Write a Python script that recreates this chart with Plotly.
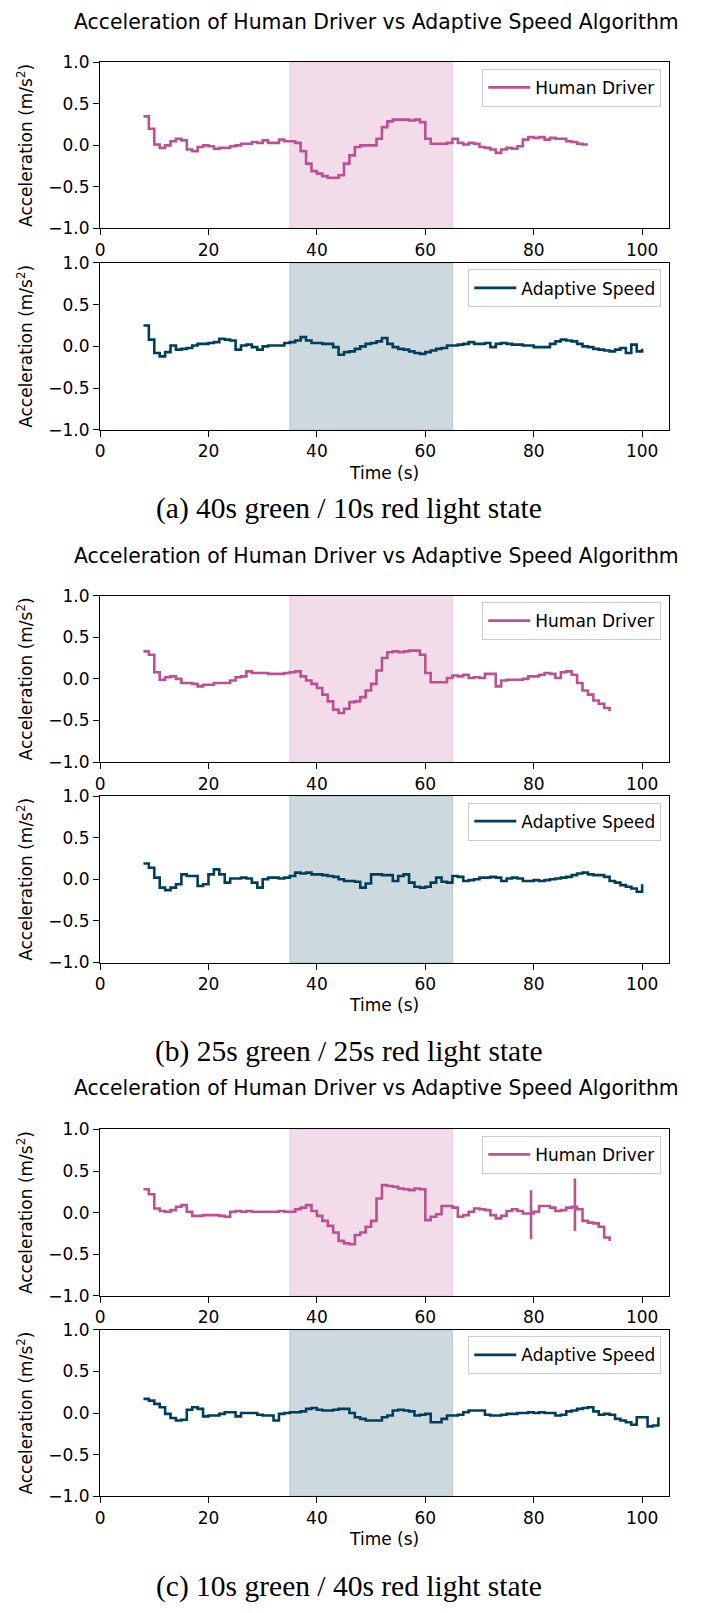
import plotly.graph_objects as go

# ---------------- DATA ----------------
time_start = 8
# (a) 40s green / 10s red
human_a = [0.35, 0.20, 0.01, -0.03, 0.00, 0.05, 0.08, 0.06, -0.05, -0.07, -0.02, 0.00, -0.01, -0.04, -0.03, -0.03,
           -0.01, 0.00, 0.02, 0.02, 0.04, 0.03, 0.06, 0.03, 0.03, 0.07, 0.05, 0.05, 0.03, -0.07, -0.22, -0.31,
           -0.34, -0.37, -0.39, -0.39, -0.36, -0.22, -0.12, -0.02, 0.00, 0.00, 0.00, 0.08, 0.22, 0.29, 0.31, 0.31,
           0.31, 0.30, 0.31, 0.28, 0.08, 0.02, 0.02, 0.02, 0.03, 0.08, 0.03, 0.01, 0.03, 0.02, -0.02, -0.03, -0.05,
           -0.09, -0.05, -0.03, -0.04, -0.01, 0.07, 0.10, 0.09, 0.10, 0.07, 0.09, 0.08, 0.08, 0.05, 0.04, 0.02,
           0.01, 0.01]
adaptive_a = [0.25, 0.08, -0.08, -0.12, -0.07, 0.01, -0.04, -0.03, -0.02, 0.01, 0.03, 0.03, 0.04, 0.05, 0.09, 0.08,
              0.07, -0.04, 0.01, 0.02, -0.01, -0.04, 0.00, 0.01, 0.01, 0.01, 0.04, 0.05, 0.07, 0.11, 0.07, 0.04,
              0.04, 0.03, 0.03, -0.01, -0.10, -0.07, -0.06, -0.03, 0.00, 0.03, 0.04, 0.06, 0.10, 0.03, -0.01, -0.03,
              -0.04, -0.06, -0.08, -0.09, -0.07, -0.05, -0.03, -0.02, 0.01, 0.01, 0.02, 0.03, 0.05, 0.03, 0.03, 0.04,
              -0.01, 0.03, 0.04, 0.03, 0.02, 0.02, 0.01, 0.01, -0.01, -0.01, -0.01, 0.03, 0.06, 0.08, 0.07, 0.06,
              0.03, 0.00, -0.01, -0.03, -0.04, -0.05, -0.06, -0.04, -0.02, -0.08, 0.02, -0.06, -0.03]
# (b) 25s green / 25s red
human_b = [0.33, 0.29, 0.08, -0.01, 0.02, 0.03, 0.00, -0.05, -0.05, -0.06, -0.09, -0.07, -0.07, -0.05, -0.05, -0.05,
           -0.02, 0.02, 0.03, 0.09, 0.07, 0.07, 0.07, 0.06, 0.06, 0.06, 0.07, 0.08, 0.09, 0.03, -0.02, -0.06,
           -0.11, -0.19, -0.27, -0.37, -0.41, -0.36, -0.28, -0.27, -0.22, -0.14, -0.06, 0.10, 0.25, 0.32, 0.33,
           0.32, 0.33, 0.34, 0.34, 0.29, 0.07, -0.04, -0.04, -0.04, 0.01, 0.04, 0.03, 0.05, 0.01, 0.02, 0.01,
           0.06, 0.06, -0.09, -0.02, -0.01, -0.01, -0.01, 0.00, 0.03, 0.03, 0.05, 0.07, 0.06, 0.01, 0.08, 0.09,
           0.05, -0.05, -0.14, -0.19, -0.26, -0.30, -0.35, -0.39]
adaptive_b = [0.19, 0.14, 0.02, -0.10, -0.13, -0.10, -0.06, 0.06, 0.04, 0.04, -0.08, -0.06, 0.06, 0.12, 0.06, -0.04,
              0.01, 0.01, 0.02, 0.01, -0.04, -0.10, 0.00, 0.02, 0.02, 0.01, 0.02, 0.04, 0.08, 0.07, 0.08, 0.06,
              0.06, 0.05, 0.04, 0.03, 0.00, -0.02, -0.02, -0.03, -0.10, -0.05, 0.06, 0.06, 0.05, 0.05, -0.02, 0.04,
              0.06, -0.04, -0.09, -0.10, -0.09, -0.04, 0.02, -0.03, -0.04, 0.04, 0.03, -0.02, -0.01, 0.00, 0.02,
              0.02, 0.03, 0.02, -0.02, 0.01, 0.02, 0.01, -0.02, -0.02, -0.01, -0.02, -0.01, 0.00, 0.01, 0.02, 0.03,
              0.05, 0.07, 0.08, 0.06, 0.05, 0.05, 0.03, -0.02, -0.04, -0.07, -0.09, -0.11, -0.15, -0.06]
# (c) 10s green / 40s red
human_c = [0.28, 0.22, 0.05, 0.02, 0.01, 0.03, 0.07, 0.09, 0.01, -0.04, -0.04, -0.03, -0.03, -0.03, -0.04, -0.05,
           0.01, 0.02, 0.01, 0.02, 0.01, 0.01, 0.01, 0.01, 0.01, 0.02, 0.01, 0.01, 0.04, 0.06, 0.09, 0.02, -0.04,
           -0.10, -0.16, -0.24, -0.34, -0.37, -0.38, -0.27, -0.24, -0.17, -0.10, 0.17, 0.33, 0.32, 0.31, 0.29,
           0.28, 0.27, 0.29, 0.28, -0.09, -0.05, -0.02, 0.08, 0.08, 0.06, -0.05, -0.03, 0.01, 0.05, 0.04, 0.03,
           -0.03, -0.07, -0.04, 0.02, 0.04, 0.02, -0.01, -0.01, 0.01, 0.08, 0.08, 0.06, 0.02, 0.03, 0.06, 0.07,
           0.04, -0.10, -0.12, -0.13, -0.17, -0.30, -0.34]
human_c_spike_times = [79.5, 87.6]
human_c_spike_high = [0.27, 0.41]
human_c_spike_low = [-0.32, -0.22]
adaptive_c = [0.17, 0.15, 0.11, 0.07, -0.01, -0.06, -0.09, -0.08, 0.04, 0.07, 0.05, -0.04, -0.03, -0.03, -0.01, 0.01,
              0.01, -0.04, 0.00, 0.00, 0.00, -0.02, -0.03, -0.03, -0.09, -0.01, 0.00, 0.01, 0.01, 0.02, 0.05, 0.06,
              0.04, 0.03, 0.03, 0.04, 0.05, 0.05, 0.00, -0.05, -0.07, -0.09, -0.09, -0.09, -0.05, -0.03, 0.03, 0.04,
              0.03, 0.02, -0.03, -0.02, -0.01, -0.11, -0.11, -0.07, -0.03, -0.03, -0.02, 0.01, 0.03, 0.03, 0.03,
              -0.02, -0.03, -0.03, -0.02, -0.01, -0.01, 0.00, 0.00, 0.01, 0.00, 0.01, 0.00, 0.00, -0.03, -0.02, 0.02,
              0.03, 0.05, 0.06, 0.07, 0.02, -0.02, -0.01, -0.02, -0.07, -0.09, -0.11, -0.14, -0.05, -0.05, -0.16,
              -0.15, -0.05]

red_phase = [35, 65]
chart_title = "Acceleration of Human Driver vs Adaptive Speed Algorithm"
captions = ["(a) 40s green / 10s red light state",
            "(b) 25s green / 25s red light state",
            "(c) 10s green / 40s red light state"]
series_names = ["Human Driver", "Adaptive Speed"]
x_title = "Time (s)"
y_title = "Acceleration (m/s<sup>2</sup>)"
x_ticks = [0, 20, 40, 60, 80, 100]
y_ticks = [-1.0, -0.5, 0.0, 0.5, 1.0]
y_tick_text = ["\u22121.0", "\u22120.5", "0.0", "0.5", "1.0"]

# ---------------- STYLE / LAYOUT ----------------
PAGE_OFF = 8                      # browser default body margin
W, H = 710 - 2 * PAGE_OFF, 1613 - 2 * PAGE_OFF
HUMAN_COLOR = "#bc5090"
ADAPT_COLOR = "#003f5c"
HUMAN_SHADE = "rgba(188,80,144,0.2)"
ADAPT_SHADE = "rgba(0,63,92,0.2)"
FONT = "DejaVu Sans"
SERIF = "Liberation Serif"
PLOT_LEFT, PLOT_RIGHT = 95.7, 669.0   # page px
panel_px = [(53, 221), (256, 425), (593, 761.5), (796, 964.5), (1133.5, 1302), (1336.5, 1505)]
title_px = [12, 553, 1092]
caption_px = [505, 1055, 1596]


def px_x(p):
    return (p - PAGE_OFF) / W


def px_y(p):
    return 1 - (p - PAGE_OFF) / H


def with_spikes(t, v, st, hi, lo):
    xs, ys = [], []
    k = 0
    for i in range(len(t)):
        xs.append(t[i]); ys.append(v[i])
        while k < len(st) and (i + 1 >= len(t) or t[i + 1] > st[k]) and st[k] >= t[i]:
            xs += [st[k], st[k], st[k], st[k]]
            ys += [v[i], hi[k], lo[k], v[i]]
            k += 1
    return xs, ys


def times(vals):
    return list(range(time_start, time_start + len(vals)))


series = [
    (times(human_a), human_a, 0),
    (times(adaptive_a), adaptive_a, 1),
    (times(human_b), human_b, 0),
    (times(adaptive_b), adaptive_b, 1),
    with_spikes(times(human_c), human_c, human_c_spike_times, human_c_spike_high, human_c_spike_low) + (0,),
    (times(adaptive_c), adaptive_c, 1),
]

fig = go.Figure()
layout = dict(width=W, height=H, autosize=False, margin=dict(l=0, r=0, t=0, b=0, pad=0),
              paper_bgcolor="white", plot_bgcolor="white", font=dict(family=FONT, size=17, color="black"),
              shapes=[], annotations=[])

for i, (xs, ys, kind) in enumerate(series):
    n = i + 1
    xa = "x" if n == 1 else f"x{n}"
    ya = "y" if n == 1 else f"y{n}"
    leg = "legend" if n == 1 else f"legend{n}"
    color = HUMAN_COLOR if kind == 0 else ADAPT_COLOR
    fig.add_trace(go.Scatter(x=xs, y=ys, mode="lines", line=dict(color=color, width=2.6, shape="hv"),
                             name=series_names[kind], xaxis=xa, yaxis=ya, legend=leg, showlegend=True))
    top, bot = panel_px[i]
    ax_common = dict(showline=True, mirror=True, linecolor="black", linewidth=1.3, ticks="outside",
                     ticklen=6, tickwidth=1.3, tickcolor="black", showgrid=False, zeroline=False,
                     tickfont=dict(family=FONT, size=17, color="black"))
    xdef = dict(ax_common, domain=[px_x(PLOT_LEFT), px_x(PLOT_RIGHT)], range=[0, 105], tickvals=x_ticks,
                anchor=ya)
    if kind == 1:
        xdef["title"] = dict(text=x_title, font=dict(size=17), standoff=6)
    layout["xaxis" if n == 1 else f"xaxis{n}"] = xdef
    layout["yaxis" if n == 1 else f"yaxis{n}"] = dict(
        ax_common, domain=[px_y(bot), px_y(top)], range=[-1, 1], tickvals=y_ticks, ticktext=y_tick_text,
        anchor=xa, title=dict(text=y_title, font=dict(size=17), standoff=11))
    shade = HUMAN_SHADE if kind == 0 else ADAPT_SHADE
    layout["shapes"].append(dict(type="rect", xref=xa, yref=f"{ya} domain", x0=red_phase[0], x1=red_phase[1],
                                 y0=0, y1=1, fillcolor=shade, line=dict(color=shade, width=1), layer="below"))
    layout[leg] = dict(x=px_x(661), xanchor="right", y=px_y(top + 6.5), yanchor="top",
                       bgcolor="rgba(255,255,255,0.8)", bordercolor="#cccccc", borderwidth=1,
                       itemwidth=42, font=dict(family=FONT, size=17, color="black"))

for k in range(3):
    layout["annotations"].append(dict(text=chart_title, x=px_x(374), y=px_y(title_px[k]), xref="paper",
                                      yref="paper", xanchor="center", yanchor="middle", showarrow=False,
                                      font=dict(family=FONT, size=20.4, color="black")))
    layout["annotations"].append(dict(text=captions[k], x=px_x(346), y=px_y(caption_px[k]), xref="paper",
                                      yref="paper", xanchor="center", yanchor="middle", showarrow=False,
                                      font=dict(family=SERIF, size=29.5, color="black")))

fig.update_layout(**layout)
fig.write_html("out.html", config={"displayModeBar": False})
